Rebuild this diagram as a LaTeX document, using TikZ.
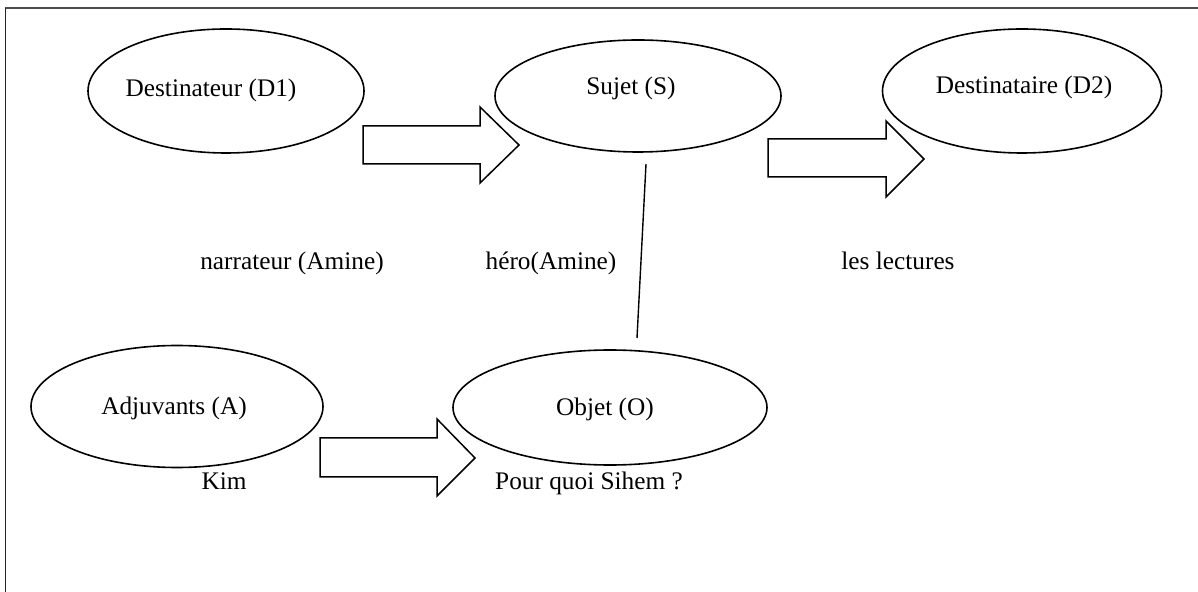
\documentclass[tikz,border=0pt]{standalone}
\usepackage{fontspec}
\setmainfont{Liberation Serif}
\usetikzlibrary{shapes.geometric}
\begin{document}
\begin{tikzpicture}[x=0.5pt,y=-0.5pt,
  oval/.style={draw=black,line width=0.8pt,ellipse,inner sep=0pt},
  txt/.style={anchor=base,inner sep=0pt,font=\fontsize{12.65}{15}\selectfont},
  blockarrow/.style={draw=black,line width=0.75pt,fill=white,line join=miter},
  link/.style={draw=black,line width=0.7pt}]
\useasboundingbox (0,0) rectangle (1198,592);
% frame
\draw[draw=black!70,line width=1.3pt] (5,8) -- (1198,8);
\draw[draw=black!85,line width=0.5pt] (5,8) -- (5,592);
% ellipses
\node[oval,minimum width=138pt,minimum height=62pt] (d1) at (226,91) {};
\node[oval,minimum width=143pt,minimum height=56pt] (s) at (638,96) {};
\node[oval,minimum width=139.5pt,minimum height=62pt] (d2) at (1022,91) {};
\node[oval,minimum width=146pt,minimum height=61pt] (a) at (177,406.5) {};
\node[oval,minimum width=157pt,minimum height=57.5pt] (o) at (610,407.5) {};
% ellipse texts
\node[txt] (d1t) at (211,97) {Destinateur (D1)};
\node[txt] (st) at (631,95) {Sujet (S)};
\node[txt] (d2t) at (1024,94) {Destinataire (D2)};
\node[txt] (at) at (174,415) {Adjuvants (A)};
\node[txt] (ot) at (605,416) {Objet (O)};
% free texts
\node[txt] (narr) at (292,270) {narrateur (Amine)};
\node[txt] (hero) at (551,270) {héro(Amine)};
\node[txt] (lect) at (898,270) {les lectures};
\node[txt] (kim) at (224,489) {Kim};
\node[txt] (pq) at (589,489) {Pour quoi Sihem ?};
% block arrows
\draw[blockarrow] (363,126) -- (480,126) -- (480,107) -- (519,145) -- (480,183) -- (480,164) -- (363,164) -- cycle;
\draw[blockarrow] (768,139) -- (886,139) -- (886,121) -- (924,159) -- (886,197) -- (886,177) -- (768,177) -- cycle;
\draw[blockarrow] (320,438) -- (437,438) -- (437,419) -- (475,458) -- (437,496) -- (437,477) -- (320,477) -- cycle;
% line between Sujet and Objet
\coordinate (sb) at (646,164);
\coordinate (ot2) at (637,338);
\draw[link] (sb) -- (ot2);
\end{tikzpicture}
\end{document}
